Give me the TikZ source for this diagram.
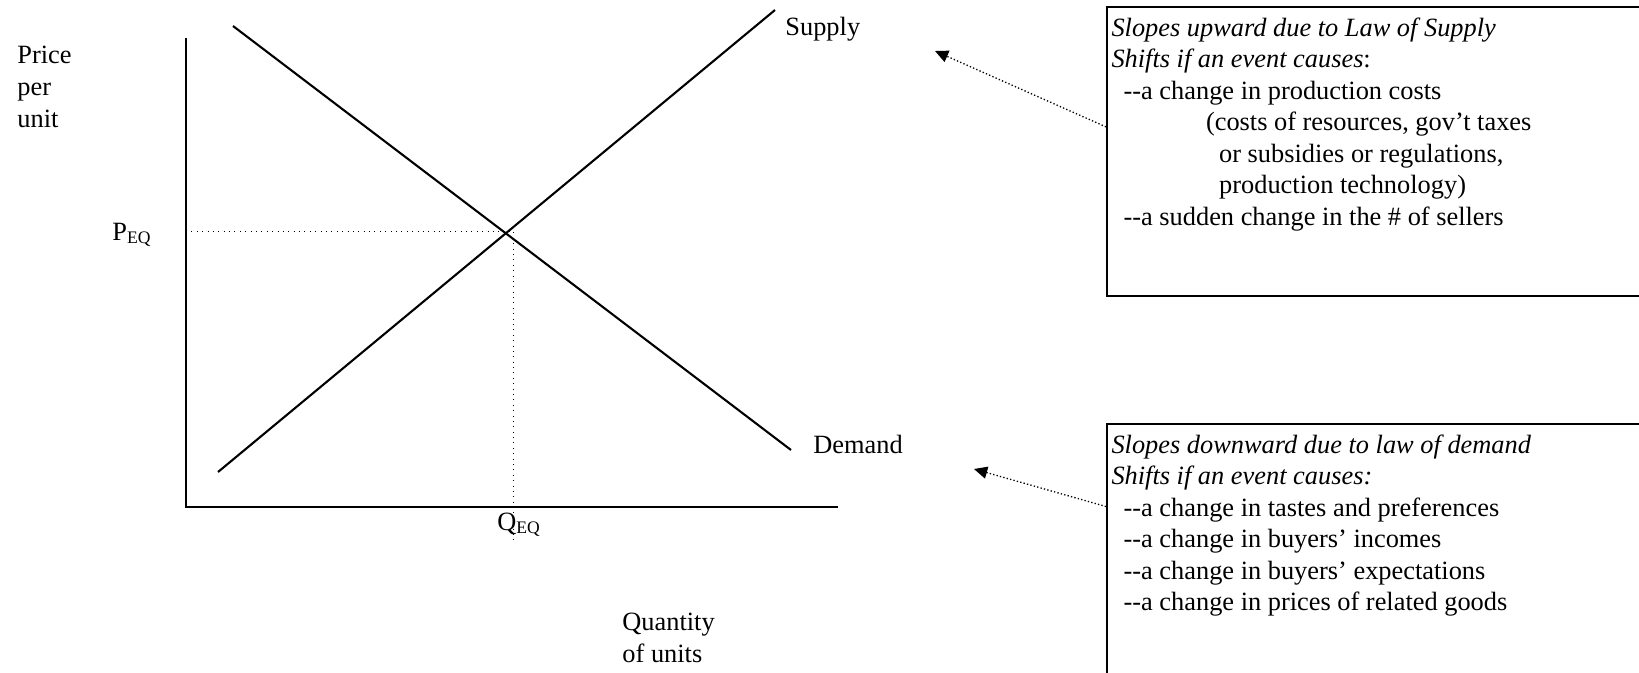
\documentclass[tikz,border=0pt]{standalone}
\usepackage{fontspec}
\setmainfont{Liberation Serif}[Ligatures=TeXOff]
\usetikzlibrary{arrows.meta}

\begin{document}
\begin{tikzpicture}[x=0.455pt, y=-0.455pt,
  lbl/.style = {inner sep=0, font=\fontsize{12}{14.35}\selectfont},
  curve/.style = {line width=0.95pt},
  guide/.style = {dotted, line width=0.45pt},
  note/.style = {draw, line width=0.95pt, inner sep=0, anchor=north west},
  pointer/.style = {densely dotted, line width=0.6pt, -{Triangle[length=6pt, width=5.5pt]}}]

\clip (0,0) rectangle (1639,672);

%% axes and curves
\coordinate (O) at (186,507);
\coordinate (ytop) at (186,38);
\coordinate (xend) at (838,507);
\coordinate (d1) at (233,26);
\coordinate (d2) at (791,450);
\coordinate (s1) at (218,472);
\coordinate (s2) at (775,10);
\coordinate (pe) at (186,231);
\coordinate (eq) at (513,231);
\coordinate (qe) at (513,540);

\draw[curve] (ytop) -- (O) -- (xend);
\draw[curve] (d1) -- (d2);
\draw[curve] (s1) -- (s2);
\draw[guide] (pe) -- (eq) -- (qe);

%% labels
\node[lbl, anchor=base west, align=left] (price) at (17,127) {Price\\per\\unit};
\node[lbl, anchor=base west] (peq) at (112,240) {P\textsubscript{EQ}};
\node[lbl, anchor=base west] (qeq) at (497,530) {Q\textsubscript{EQ}};
\node[lbl, anchor=base west, align=left] (qty) at (622,662) {Quantity\\of units};
\node[lbl, anchor=base west] (supply) at (785,35) {Supply};
\node[lbl, anchor=base west] (demand) at (813,453) {Demand};

%% note boxes
\node[note, minimum width=245pt, minimum height=131.5pt] (supplybox) at (1106,6) {};
\node[note, minimum width=245pt, minimum height=122pt] (demandbox) at (1106,423) {};

\node[lbl, anchor=north west, align=left] (supplytxt) at ([xshift=2.3pt, yshift=-5pt]supplybox.north west)
  {\textit{Slopes upward due to Law of Supply}\\
   \textit{Shifts if an event causes}:\\
   \hspace*{5.5pt}--a change in production costs\\
   \hspace*{43pt}(costs of resources, gov’t taxes\\
   \hspace*{49pt}or subsidies or regulations,\\
   \hspace*{49pt}production technology)\\
   \hspace*{5.5pt}--a sudden change in the \# of sellers};
\node[lbl, anchor=north west, align=left] (demandtxt) at ([xshift=2.3pt, yshift=-5pt]demandbox.north west)
  {\textit{Slopes downward due to law of demand}\\
   \textit{Shifts if an event causes:}\\
   \hspace*{5.5pt}--a change in tastes and preferences\\
   \hspace*{5.5pt}--a change in buyers’ incomes\\
   \hspace*{5.5pt}--a change in buyers’ expectations\\
   \hspace*{5.5pt}--a change in prices of related goods};

%% pointers
\coordinate (stip) at (935,51);
\coordinate (dtip) at (974,469);
\draw[pointer] ([yshift=-55pt]supplybox.north west) -- (stip);
\draw[pointer] ([yshift=-38pt]demandbox.north west) -- (dtip);

\end{tikzpicture}
\end{document}
